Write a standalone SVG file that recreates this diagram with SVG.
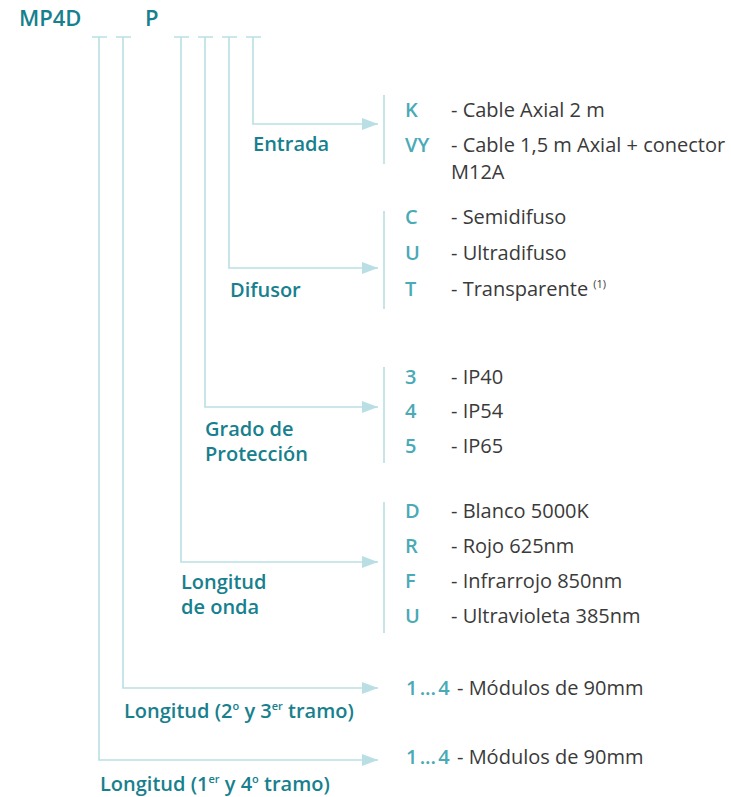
<svg xmlns="http://www.w3.org/2000/svg" width="731" height="797" viewBox="0 0 731 797">
<style>
.ln{fill:none;stroke:#b9dfe4;stroke-width:1.6}
.bar{fill:none;stroke:#c6e5e9;stroke-width:2}
.hd{font-family:"Open Sans",Lato,sans-serif;font-weight:600;font-size:20px;fill:#17808e}
.tt{font-size:22px}
.cd{font-family:"Open Sans",Lato,sans-serif;font-weight:600;font-size:20px;fill:#4aaab6}
.ds{font-family:"Open Sans",Lato,sans-serif;font-weight:400;font-size:20px;fill:#3a3a3a;word-spacing:normal}
.sup{font-size:11px}
.rng{word-spacing:-3px}
</style>
<defs>
<marker id="ah" markerWidth="16" markerHeight="12" refX="16" refY="6" orient="auto" markerUnits="userSpaceOnUse">
<path d="M0,0 L16,6 L0,12 Z" fill="#b9dfe4"/>
</marker>
</defs>
<g id="title">
<text class="hd tt" x="19" y="26">MP4D</text>
<text class="hd tt" x="145" y="26">P</text>
</g>
<g id="connectors">
<path class="ln" d="M92,37H107M116,37H131M174,37H189M198,37H213M222,37H237M246,37H261"/>
<path class="ln" d="M253,37V124H378" marker-end="url(#ah)"/>
<path class="ln" d="M229,37V268H378" marker-end="url(#ah)"/>
<path class="ln" d="M205,37V407H378" marker-end="url(#ah)"/>
<path class="ln" d="M181,37V562H378" marker-end="url(#ah)"/>
<path class="ln" d="M123,37V688H378" marker-end="url(#ah)"/>
<path class="ln" d="M99,37V760H378" marker-end="url(#ah)"/>
</g>
<g id="entrada">
<text class="hd" x="253" y="151">Entrada</text>
<line class="bar" x1="384" y1="95" x2="384" y2="164"/>
<text class="cd" x="405" y="117">K</text><text class="ds" x="451" y="117">- Cable Axial 2 m</text>
<text class="cd" x="405" y="152">VY</text><text class="ds" x="451" y="152">- Cable 1,5 m Axial + conector</text>
<text class="ds" x="451" y="179">M12A</text>
</g>
<g id="difusor">
<text class="hd" x="230" y="297">Difusor</text>
<line class="bar" x1="384" y1="211" x2="384" y2="309"/>
<text class="cd" x="405" y="224">C</text><text class="ds" x="451" y="224">- Semidifuso</text>
<text class="cd" x="405" y="260">U</text><text class="ds" x="451" y="260">- Ultradifuso</text>
<text class="cd" x="405" y="296">T</text><text class="ds" x="451" y="296">- Transparente <tspan class="sup" dy="-8">(1)</tspan></text>
</g>
<g id="proteccion">
<text class="hd" x="205" y="436">Grado de</text>
<text class="hd" x="205" y="461">Protección</text>
<line class="bar" x1="384" y1="367" x2="384" y2="463"/>
<text class="cd" x="405" y="384">3</text><text class="ds" x="451" y="384">- IP40</text>
<text class="cd" x="405" y="418">4</text><text class="ds" x="451" y="418">- IP54</text>
<text class="cd" x="405" y="453">5</text><text class="ds" x="451" y="453">- IP65</text>
</g>
<g id="onda">
<text class="hd" x="181" y="589">Longitud</text>
<text class="hd" x="181" y="614">de onda</text>
<line class="bar" x1="384" y1="502" x2="384" y2="633"/>
<text class="cd" x="405" y="518">D</text><text class="ds" x="451" y="518">- Blanco 5000K</text>
<text class="cd" x="405" y="553">R</text><text class="ds" x="451" y="553">- Rojo 625nm</text>
<text class="cd" x="405" y="588">F</text><text class="ds" x="451" y="588">- Infrarrojo 850nm</text>
<text class="cd" x="405" y="623">U</text><text class="ds" x="451" y="623">- Ultravioleta 385nm</text>
</g>
<g id="longitud23">
<text class="hd" x="124" y="718">Longitud (2<tspan class="sup" dy="-8">o</tspan><tspan dy="8"> y 3</tspan><tspan class="sup" dy="-8">er</tspan><tspan dy="8"> tramo)</tspan></text>
<text class="cd rng" x="406" y="695">1 ... 4<tspan class="ds" x="457">- Módulos de 90mm</tspan></text>
</g>
<g id="longitud14">
<text class="hd" x="100" y="791">Longitud (1<tspan class="sup" dy="-8">er</tspan><tspan dy="8"> y 4</tspan><tspan class="sup" dy="-8">o</tspan><tspan dy="8"> tramo)</tspan></text>
<text class="cd rng" x="406" y="764">1 ... 4<tspan class="ds" x="457">- Módulos de 90mm</tspan></text>
</g>
</svg>
